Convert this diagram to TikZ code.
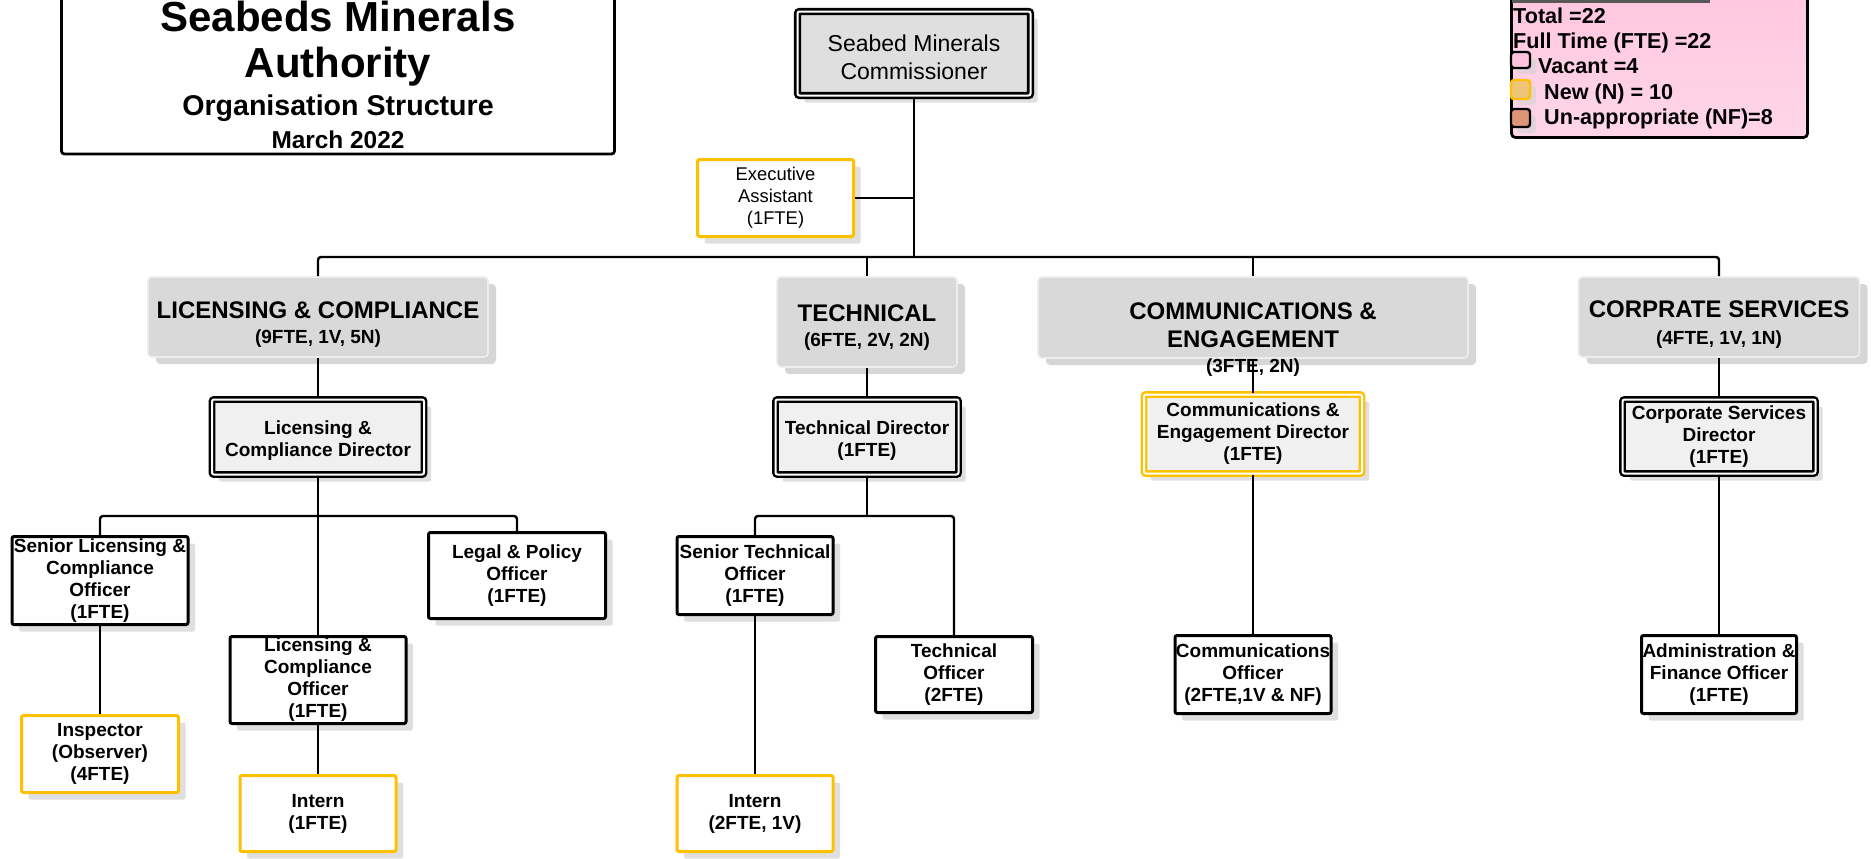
\documentclass[tikz,border=0pt]{standalone}
\usepackage{fontspec}
\setmainfont{Liberation Sans}
\usepackage{xcolor}
\usetikzlibrary{shadows}

\definecolor{newyellow}{HTML}{FFC000}
\definecolor{keypink}{HTML}{FFC2DC}
\definecolor{keypinklight}{HTML}{FFD6E8}
\definecolor{newfill}{HTML}{EDC47A}
\definecolor{nffill}{HTML}{DD9577}

\begin{document}
\begin{tikzpicture}[x=0.5pt,y=-0.5pt,line width=1.2pt]
	\tikzstyle{post}=[draw, line width=1.5pt, fill=white, rounded corners=1pt, align=center, inner sep=0pt,
		font=\bfseries\fontsize{9.5}{11}\selectfont,
		general shadow={fill=gray!25, shadow xshift=3.5pt, shadow yshift=-3.5pt}]
	\tikzstyle{newpost}=[post, draw=newyellow]
	\tikzstyle{head}=[post, line width=1.2pt, double=white, double distance=1pt, fill=gray!12]
	\tikzstyle{dept}=[draw=gray!14, line width=0.8pt, fill=gray!30, rounded corners=2pt, inner sep=0pt,
		general shadow={fill=gray!32, shadow xshift=4pt, shadow yshift=-3.5pt}]
	\tikzstyle{depttitle}=[anchor=base, inner sep=0pt, font=\bfseries\fontsize{12}{14}\selectfont]
	\tikzstyle{deptsub}=[anchor=base, inner sep=0pt, font=\bfseries\fontsize{9.5}{11}\selectfont]
	\tikzstyle{key}=[anchor=base west, inner sep=0pt, font=\bfseries\fontsize{10.8}{12}\selectfont]
	\tikzstyle{swatch}=[draw, line width=1.2pt, rounded corners=1.5pt, inner sep=0pt, minimum width=9.5pt,
		general shadow={fill=gray!35, opacity=0.6, shadow xshift=3pt, shadow yshift=-3pt}]

	\useasboundingbox (0,0) rectangle (1871,858);
	\clip (0,0) rectangle (1871,858);

	% heading box
	\node[draw, line width=1.4pt, rounded corners=1.5pt, minimum width=276.5pt, minimum height=107pt, inner sep=0pt] (title) at (338,47) {};
	\node[anchor=base, inner sep=0pt, font=\bfseries\fontsize{21}{25}\selectfont] (titleA) at (338,31) {Seabeds Minerals};
	\node[anchor=base, inner sep=0pt, font=\bfseries\fontsize{21}{25}\selectfont] (titleB) at (338,77) {Authority};
	\node[anchor=base, inner sep=0pt, font=\bfseries\fontsize{14.3}{17}\selectfont] (titleC) at (338,115) {Organisation Structure};
	\node[anchor=base, inner sep=0pt, font=\bfseries\fontsize{12.2}{14}\selectfont] (titleD) at (338,148) {March 2022};

	% key
	\node[draw, line width=1.4pt, rounded corners=2pt, top color=keypink, bottom color=keypinklight,
		minimum width=148pt, minimum height=98pt, inner sep=0pt] (legend) at (1659.5,39.5) {};
	\draw[black!65, line width=1.5pt] (1512,1) -- (1710,1);
	\node[key] (total) at (1512,23) {Total =22};
	\node[key] (fte) at (1512,48) {Full Time (FTE) =22};
	\node[swatch, fill=keypink, minimum height=8pt] (vacbox) at (1520.5,60) {};
	\node[key] (vac) at (1537,73) {Vacant =4};
	\node[swatch, draw=newyellow, fill=newfill, minimum height=9.5pt] (newbox) at (1520.5,89.5) {};
	\node[key] (new) at (1543,99) {New (N) = 10};
	\node[swatch, fill=nffill, minimum height=9pt] (nfbox) at (1520.5,118) {};
	\node[key] (nf) at (1543,124) {Un-appropriate (NF)=8};

	% commissioner and assistant
	\node[head, line width=1.3pt, fill=gray!25, minimum width=116.5pt, minimum height=42pt,
		font=\fontsize{11.5}{14}\selectfont] (comm) at (914,53.5) {\rule{0pt}{12pt}Seabed Minerals\\Commissioner};
	\node[newpost, font=\fontsize{9.2}{11}\selectfont, minimum width=78pt, minimum height=38.5pt,
		general shadow={fill=white}] (ea) at (775.5,198) {Executive\\Assistant\\(1FTE)};

	% divisions
	\node[dept, minimum width=170pt, minimum height=40pt] (lic) at (318,317) {};
	\node[depttitle] (licA) at (318,318) {LICENSING \& COMPLIANCE};
	\node[deptsub] (licB) at (318,343) {(9FTE, 1V, 5N)};

	\node[dept, minimum width=90pt, minimum height=45pt] (tech) at (867,322) {};
	\node[depttitle] (techA) at (867,321) {TECHNICAL};
	\node[deptsub] (techB) at (867,346) {(6FTE, 2V, 2N)};

	\node[dept, minimum width=215pt, minimum height=40.5pt] (cme) at (1253,317.5) {};
	\node[depttitle] (cmeA) at (1253,319) {COMMUNICATIONS \&};
	\node[depttitle] (cmeB) at (1253,347) {ENGAGEMENT};
	\node[deptsub] (cmeC) at (1253,372) {(3FTE, 2N)};

	\node[dept, minimum width=140.5pt, minimum height=40pt] (corp) at (1719,317) {};
	\node[depttitle] (corpA) at (1719,317) {CORPRATE SERVICES};
	\node[deptsub] (corpB) at (1719,344) {(4FTE, 1V, 1N)};

	% directors
	\node[head, minimum width=106pt, minimum height=37.5pt] (licD) at (318,437) {\rule{0pt}{10pt}Licensing \&\\Compliance Director};
	\node[head, minimum width=91.5pt, minimum height=37.5pt] (techD) at (867,437) {\rule{0pt}{10pt}Technical Director\\(1FTE)};
	\node[head, draw=newyellow, minimum width=109pt, minimum height=39.5pt] (cmeD) at (1253,434) {Communications \&\\Engagement Director\\(1FTE)};
	\node[head, minimum width=96.5pt, minimum height=37pt] (corpD) at (1719,436.5) {Corporate Services\\Director\\(1FTE)};

	% officers
	\node[post, minimum width=88pt, minimum height=44pt] (slco) at (100,580.5) {Senior Licensing \&\\Compliance\\Officer\\(1FTE)};
	\node[post, minimum width=88.5pt, minimum height=43pt] (lpo) at (517,575.5) {Legal \& Policy\\Officer\\(1FTE)};
	\node[post, minimum width=88pt, minimum height=43.5pt] (lco) at (318,680) {Licensing \&\\Compliance\\Officer\\(1FTE)};
	\node[newpost, minimum width=78.5pt, minimum height=38.5pt] (insp) at (100,754) {Inspector\\(Observer)\\(4FTE)};
	\node[newpost, minimum width=78pt, minimum height=38pt] (lint) at (318,813.5) {Intern\\(1FTE)};

	\node[post, minimum width=78pt, minimum height=39pt] (sto) at (755,575.5) {Senior Technical\\Officer\\(1FTE)};
	\node[post, minimum width=78.5pt, minimum height=38pt] (to) at (954,674.5) {Technical\\Officer\\(2FTE)};
	\node[newpost, minimum width=78pt, minimum height=38pt] (tint) at (755,813.5) {Intern\\(2FTE, 1V)};

	\node[post, minimum width=78pt, minimum height=39pt] (co) at (1253,674.5) {Communications\\Officer\\(2FTE,1V \& NF)};
	\node[post, minimum width=77.5pt, minimum height=39pt] (afo) at (1719,674.5) {Administration \&\\Finance Officer\\(1FTE)};

	% reporting lines
	\coordinate (bus) at (914,257);
	\coordinate (licbus) at (318,516);
	\coordinate (techbus) at (867,516);

	\draw (comm.south) -- (bus);
	\draw (ea.east) -- (ea.east -| bus);
	\draw[rounded corners=1.5pt] (lic.north) |- (bus) -| (corp.north);
	\draw (tech.north) -- (tech.north |- bus);
	\draw (cme.north) -- (cme.north |- bus);
	\foreach \i/\j in {lic/licD, tech/techD, cme/cmeD, corp/corpD, licD/lco, slco/insp, lco/lint, sto/tint, cmeD/co, corpD/afo}{
		\draw (\i.south) -- (\j.north);
		}
	\draw[rounded corners=1.5pt] (slco.north) |- (licbus) -| (lpo.north);
	\draw[rounded corners=1.5pt] (sto.north) |- (techbus) -| (to.north);
	\draw (techD.south) -- (techbus);
\end{tikzpicture}
\end{document}
